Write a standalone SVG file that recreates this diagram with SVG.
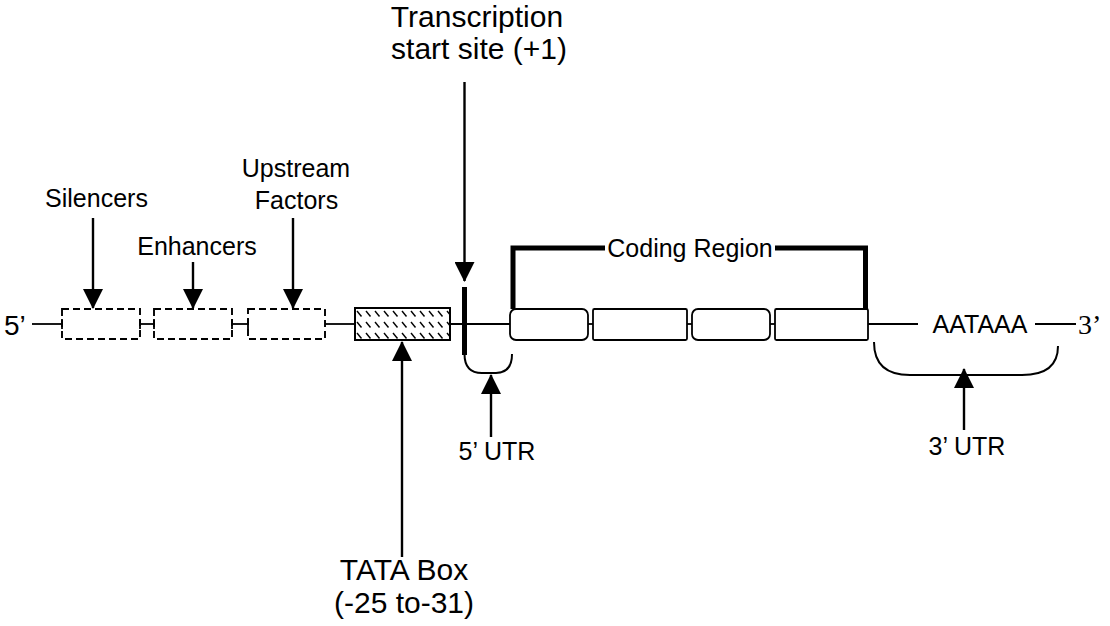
<svg xmlns="http://www.w3.org/2000/svg" width="1110" height="626" viewBox="0 0 1110 626">
  <style>
    text { font-family: "Liberation Sans", Arial, sans-serif; fill: #000; }
    .lbl { font-size: 25px; }
    .big { font-size: 30px; }
    .end { font-family: "Liberation Serif", "Times New Roman", serif; font-size: 28px; }
    .dna { stroke: #000; stroke-width: 1.8; fill: none; }
    .reg { stroke: #000; stroke-width: 1.9; fill: none; stroke-dasharray: 7 4; }
    .exon { stroke: #000; stroke-width: 1.8; fill: #fff; }
    .thick { stroke: #000; stroke-width: 5; fill: none; }
    .shaft { stroke: #000; stroke-width: 2.4; fill: none; marker-end: url(#head); }
    .curve { stroke: #000; stroke-width: 2; fill: none; }
  </style>
  <defs>
    <marker id="head" markerUnits="userSpaceOnUse" markerWidth="20" markerHeight="20" viewBox="0 0 20 20" refX="19" refY="10" orient="auto">
      <path d="M0,0 L20,10 L0,20 z" fill="#000"/>
    </marker>
    <pattern id="hatch" patternUnits="userSpaceOnUse" width="9" height="11" x="355" y="309">
      <line x1="2" y1="2" x2="6.5" y2="7.5" stroke="#000" stroke-width="1.4"/>
    </pattern>
  </defs>

  <rect width="1110" height="626" fill="#fff"/>

  <!-- DNA strand backbone and linkers -->
  <g id="backbone">
    <line class="dna" x1="32" y1="324" x2="62" y2="324"/>
    <line class="dna" x1="62" y1="319" x2="62" y2="329"/>
    <line class="dna" x1="140" y1="324" x2="154" y2="324"/>
    <line class="dna" x1="140" y1="319" x2="140" y2="329"/>
    <line class="dna" x1="154" y1="319" x2="154" y2="329"/>
    <line class="dna" x1="232" y1="324" x2="248" y2="324"/>
    <line class="dna" x1="232" y1="319" x2="232" y2="329"/>
    <line class="dna" x1="248" y1="319" x2="248" y2="329"/>
    <line class="dna" x1="325" y1="324" x2="355" y2="324"/>
    <line class="dna" x1="450" y1="324" x2="510" y2="324"/>
    <line class="dna" x1="588" y1="324" x2="593" y2="324"/>
    <line class="dna" x1="687" y1="324" x2="692" y2="324"/>
    <line class="dna" x1="770" y1="324" x2="775" y2="324"/>
    <line class="dna" x1="868" y1="324" x2="918" y2="324"/>
    <line class="dna" x1="1035" y1="324" x2="1076" y2="324"/>
  </g>

  <g id="end5">
    <text x="4" y="335" style="font-size:28px">5’</text>
  </g>
  <g id="end3">
    <text class="end" x="1078" y="334">3’</text>
  </g>

  <!-- upstream regulatory elements -->
  <g id="silencers">
    <rect class="reg" x="62" y="309" width="78" height="30"/>
    <text class="lbl" x="96.5" y="207" text-anchor="middle">Silencers</text>
  </g>
  <g id="enhancers">
    <rect class="reg" x="154" y="309" width="78" height="30"/>
    <text class="lbl" x="197" y="255" text-anchor="middle">Enhancers</text>
  </g>
  <g id="upstream-factors">
    <rect class="reg" x="248" y="309" width="77" height="30"/>
    <text class="lbl" x="296" y="177" text-anchor="middle">Upstream</text>
    <text class="lbl" x="296.5" y="209" text-anchor="middle">Factors</text>
  </g>

  <g id="tata-box">
    <rect x="355" y="308" width="95" height="32" fill="url(#hatch)" stroke="#000" stroke-width="2"/>
    <text class="big" x="404" y="580" text-anchor="middle">TATA Box</text>
    <text class="big" x="404" y="613" text-anchor="middle">(-25 to-31)</text>
  </g>

  <g id="tss">
    <line class="thick" x1="464.5" y1="287" x2="464.5" y2="355"/>
    <text class="big" x="477" y="27" text-anchor="middle">Transcription</text>
    <text class="big" x="479" y="59" text-anchor="middle">start site (+1)</text>
  </g>

  <g id="coding-region">
    <rect class="exon" x="510" y="309" width="78" height="31" rx="6"/>
    <rect class="exon" x="593" y="309" width="94" height="31" rx="1.5"/>
    <rect class="exon" x="692" y="309" width="78" height="31" rx="6"/>
    <rect class="exon" x="775" y="309" width="93" height="31" rx="1.5"/>
    <path class="thick" d="M513,309 V248 H605"/>
    <path class="thick" d="M775,248 H865.5 V309"/>
    <text class="lbl" x="690" y="257" text-anchor="middle">Coding Region</text>
  </g>

  <g id="polyA">
    <text class="lbl" x="980" y="333" text-anchor="middle">AATAAA</text>
  </g>

  <g id="utr5">
    <path class="curve" d="M464.5,354 Q464.5,373 482,373 H496 Q512,373 512,354"/>
    <text class="lbl" x="497" y="460" text-anchor="middle">5’ UTR</text>
  </g>

  <g id="utr3">
    <path class="curve" d="M874,342 Q874,375 910,375 H1022 Q1058,375 1058,346"/>
    <text class="lbl" x="967" y="455" text-anchor="middle">3’ UTR</text>
  </g>

  <!-- pointer arrows -->
  <g id="connectors">
    <line class="shaft" x1="93" y1="218" x2="93" y2="308"/>
    <line class="shaft" x1="193" y1="262" x2="193" y2="308"/>
    <line class="shaft" x1="293" y1="218" x2="293" y2="308"/>
    <line class="shaft" x1="464.5" y1="82" x2="464.5" y2="281"/>
    <line class="shaft" x1="402" y1="557" x2="402" y2="342"/>
    <line class="shaft" x1="491" y1="437" x2="491" y2="375"/>
    <line class="shaft" x1="964" y1="430" x2="964" y2="369"/>
  </g>
</svg>
